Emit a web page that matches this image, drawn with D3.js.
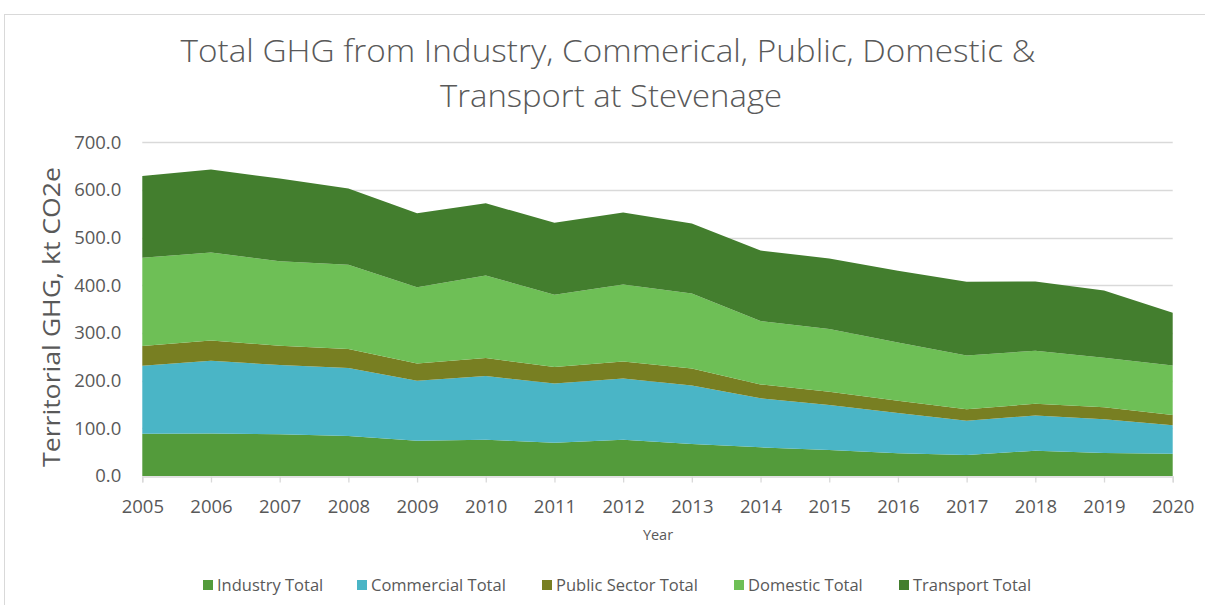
<!DOCTYPE html>
<html>
<head>
<meta charset="utf-8">
<script src="https://cdn.jsdelivr.net/npm/d3@7"></script>
<style>
  body { margin: 0; background: #fff; }
  svg { display: block; font-family: "Open Sans", "Noto Sans", sans-serif; }
</style>
</head>
<body>
<svg id="chart" width="1205" height="605"></svg>
<script>
// values (kt CO2e)
const years = [2005, 2006, 2007, 2008, 2009, 2010, 2011, 2012, 2013, 2014, 2015, 2016, 2017, 2018, 2019, 2020];
const industry     = [88.7, 89.4, 87.4, 83.8, 74.0, 76.1, 69.9, 76.1, 67.1, 60.1, 54.5, 47.5, 44.0, 53.1, 48.2, 46.7];
const commercial   = [142.5, 152.3, 145.3, 142.6, 125.8, 133.5, 124.3, 128.6, 122.9, 102.8, 94.3, 84.5, 72.0, 74.0, 70.6, 59.5];
const publicSector = [41.3, 42.7, 40.4, 39.8, 36.4, 37.7, 34.3, 35.7, 35.7, 29.3, 28.0, 25.9, 23.8, 24.5, 25.2, 21.7];
const domestic     = [185.1, 184.5, 177.5, 176.7, 159.9, 173.3, 151.5, 161.4, 157.2, 132.7, 131.3, 122.3, 113.2, 111.1, 104.0, 104.1];
const transport    = [171.8, 173.9, 173.4, 160.1, 155.1, 151.6, 151.0, 150.8, 146.7, 148.1, 148.2, 150.2, 154.3, 145.3, 141.2, 110.3];

const seriesNames = ["Industry Total", "Commercial Total", "Public Sector Total", "Domestic Total", "Transport Total"];
const seriesColors = ["#539b3b", "#4ab5c6", "#787f22", "#6ebf56", "#437e2e"];
const yTicks = [0, 100, 200, 300, 400, 500, 600, 700];

const svg = d3.select("#chart");

// table for d3.stack built from the arrays above
const columns = [industry, commercial, publicSector, domestic, transport];
const table = years.map((yr, i) => {
    const row = {year: yr};
    seriesNames.forEach((name, k) => row[name] = columns[k][i]);
    return row;
});

const x = d3.scaleLinear().domain([2005, 2020]).range([142.3, 1172.7]);
const y = d3.scaleLinear().domain([0, 700]).range([476, 142.3]);

// outer chart frame
svg.append("rect")
    .attr("x", 4.5).attr("y", 14.5)
    .attr("width", 1230).attr("height", 620)
    .attr("fill", "none")
    .attr("stroke", "#d9d9d9");

// gridlines
svg.append("g")
    .selectAll("line")
    .data(yTicks.filter(t => t > 0))
    .enter().append("line")
    .attr("x1", x(2005)).attr("x2", x(2020))
    .attr("y1", d => Math.round(y(d)) + 0.5)
    .attr("y2", d => Math.round(y(d)) + 0.5)
    .attr("stroke", "#d9d9d9")
    .attr("stroke-width", 1.3);

// stacked areas
const stacked = d3.stack().keys(seriesNames)(table);
const area = d3.area()
    .x(d => x(d.data.year))
    .y0(d => y(d[0]))
    .y1(d => y(d[1]));

svg.append("g")
    .selectAll("path")
    .data(stacked)
    .enter().append("path")
    .attr("d", area)
    .attr("fill", (d, i) => seriesColors[i]);

// x axis
const xAxis = d3.axisBottom(x)
    .tickValues(years)
    .tickFormat(d3.format("d"))
    .tickSize(6)
    .tickPadding(17);

const gx = svg.append("g")
    .attr("transform", `translate(0,${Math.round(y(0)) + 0.5})`)
    .call(xAxis);
gx.select(".domain").attr("stroke", "#d9d9d9").attr("stroke-width", 1.3);
gx.selectAll(".tick line").attr("stroke", "#d9d9d9").attr("stroke-width", 1.3);
gx.selectAll(".tick text")
    .attr("fill", "#595959")
    .attr("font-size", 18.5)
    .attr("font-family", "Open Sans, sans-serif");

// y axis labels only
const yAxis = d3.axisLeft(y)
    .tickValues(yTicks)
    .tickFormat(d3.format(".1f"))
    .tickSize(0)
    .tickPadding(21);

const gy = svg.append("g")
    .attr("transform", `translate(${x(2005)},0)`)
    .call(yAxis);
gy.select(".domain").remove();
gy.selectAll(".tick text")
    .attr("fill", "#595959")
    .attr("font-size", 18.5)
    .attr("font-family", "Open Sans, sans-serif");

// title
const title = svg.append("text")
    .attr("text-anchor", "middle")
    .attr("fill", "#595959")
    .attr("font-size", 31)
    .attr("font-weight", 300);
title.append("tspan")
    .attr("x", 608).attr("y", 62)
    .attr("textLength", 855).attr("lengthAdjust", "spacingAndGlyphs")
    .text("Total GHG from Industry, Commerical, Public, Domestic &");
title.append("tspan")
    .attr("x", 611).attr("y", 107)
    .attr("textLength", 342).attr("lengthAdjust", "spacingAndGlyphs")
    .text("Transport at Stevenage");

// axis titles
svg.append("text")
    .attr("transform", `translate(60,317) rotate(-90)`)
    .attr("text-anchor", "middle")
    .attr("fill", "#595959")
    .attr("font-size", 24)
    .attr("textLength", 300).attr("lengthAdjust", "spacingAndGlyphs")
    .text("Territorial GHG, kt CO2e");

svg.append("text")
    .attr("x", 658).attr("y", 540)
    .attr("text-anchor", "middle")
    .attr("fill", "#595959")
    .attr("font-size", 14.5)
    .text("Year");

// legend
const legendX = [203, 357, 542, 734, 899];
const legend = svg.append("g")
    .selectAll("g")
    .data(seriesNames)
    .enter().append("g")
    .attr("transform", (d, i) => `translate(${legendX[i]},580)`);
legend.append("rect")
    .attr("width", 10).attr("height", 10)
    .attr("fill", (d, i) => seriesColors[i]);
legend.append("text")
    .attr("x", 14).attr("y", 11)
    .attr("fill", "#595959")
    .attr("font-size", 16.5)
    .text(d => d);
</script>
</body>
</html>
